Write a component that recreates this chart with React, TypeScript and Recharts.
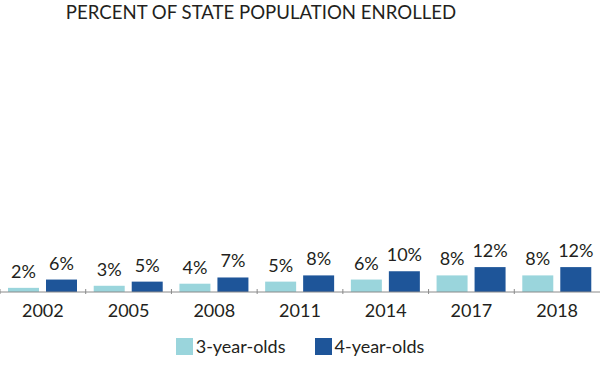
import { BarChart, Bar, XAxis, YAxis, Legend, LabelList } from "recharts"

const years = ["2002", "2005", "2008", "2011", "2014", "2017", "2018"]
const threeYearOlds = [2, 3, 4, 5, 6, 8, 8]
const fourYearOlds = [6, 5, 7, 8, 10, 12, 12]

const data = years.map((year, i) => ({
  year,
  three: threeYearOlds[i],
  four: fourYearOlds[i],
}))

const LIGHT = "#9ad5dc"
const DARK = "#1e5599"
const TEXT = "#231f20"

const CategoryTick = (props: any) => {
  const { x, y, payload } = props
  const half = payload.offset ?? 600 / 14
  return (
    <g>
      <line x1={x - half} x2={x - half} y1={y - 3} y2={y + 2} stroke="#8a8a8a" />
      <text x={x} y={y + 25} textAnchor="middle" fill={TEXT} fontSize={18}>
        {payload.value}
      </text>
    </g>
  )
}

const LegendContent = (props: any) => {
  const { payload = [] } = props
  return (
    <div style={{ display: "flex", justifyContent: "center", alignItems: "center", gap: 29, lineHeight: "22px" }}>
      {payload.map((entry: any) => (
        <div key={entry.value} style={{ display: "flex", alignItems: "center" }}>
          <span style={{ width: 17, height: 17, background: entry.color, marginRight: 3, display: "inline-block" }} />
          <span style={{ color: TEXT, fontSize: 18 }}>{entry.value}</span>
        </div>
      ))}
    </div>
  )
}

export default function App() {
  return (
    <div style={{ position: "absolute", left: 0, top: 0, width: 600, height: 369, fontFamily: "Lato", background: "#fff" }}>
      <div style={{ position: "absolute", top: 1, left: 0, width: 522, textAlign: "center", fontSize: 18.6, color: TEXT }}>
        PERCENT OF STATE POPULATION ENROLLED
      </div>
      <BarChart
        width={600}
        height={369}
        data={data}
        margin={{ top: 43, right: 0, left: 0, bottom: 12 }}
        barCategoryGap={8}
        barGap={7}
      >
        <XAxis
          dataKey="year"
          axisLine={{ stroke: "#8a8a8a" }}
          tickLine={false}
          tickSize={0}
          tickMargin={0}
          height={43}
          tick={<CategoryTick />}
          interval={0}
        />
        <YAxis hide domain={[0, 120]} />
        <Legend verticalAlign="bottom" align="center" content={<LegendContent />} />
        <Bar dataKey="three" name="3-year-olds" fill={LIGHT} isAnimationActive={false}>
          <LabelList dataKey="three" position="top" offset={10} fill={TEXT} fontSize={18} formatter={(v: any) => `${v}%`} />
        </Bar>
        <Bar dataKey="four" name="4-year-olds" fill={DARK} isAnimationActive={false}>
          <LabelList dataKey="four" position="top" offset={10} fill={TEXT} fontSize={18} formatter={(v: any) => `${v}%`} />
        </Bar>
      </BarChart>
    </div>
  )
}
